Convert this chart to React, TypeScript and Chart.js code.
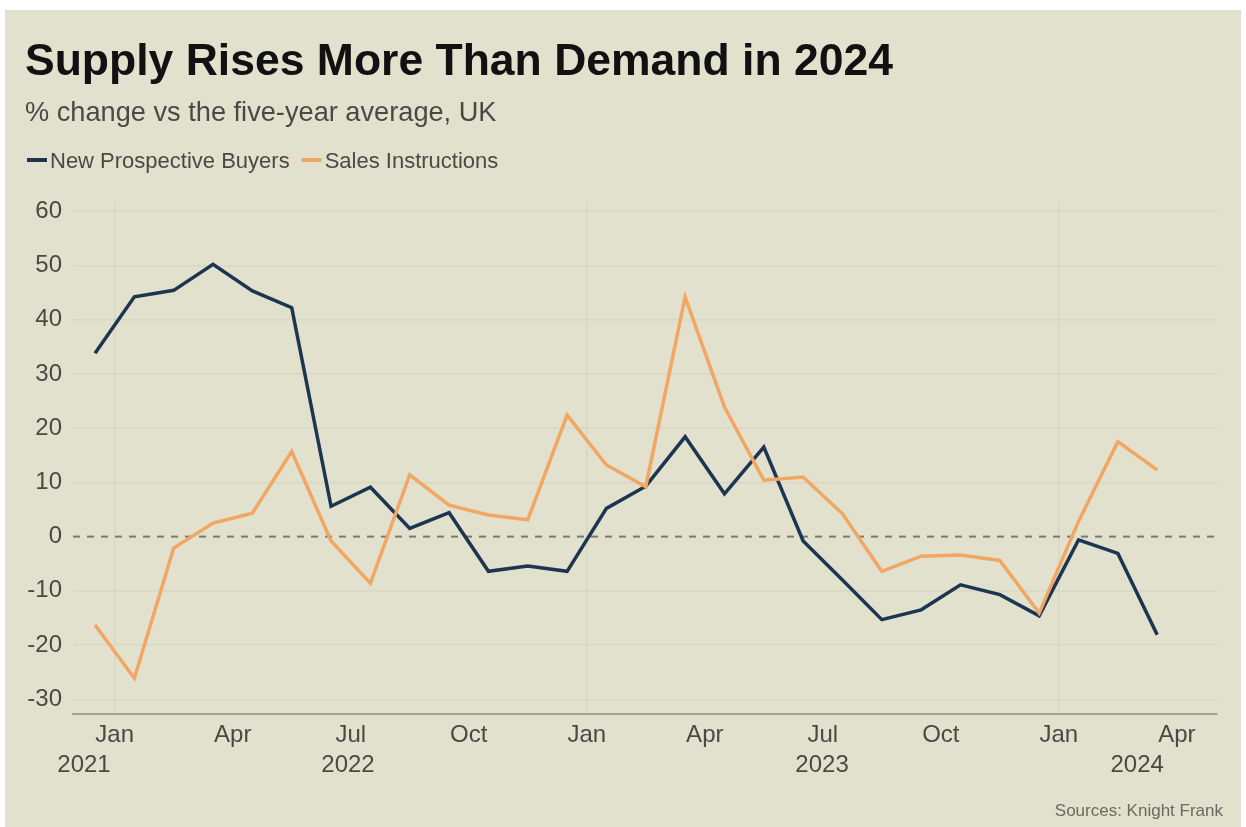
import React, { useEffect, useRef } from "react";
import { Chart, registerables } from "chart.js";

Chart.register(...registerables);

const titleText = "Supply Rises More Than Demand in 2024";
const subtitleText = "% change vs the five-year average, UK";
const sourceText = "Sources: Knight Frank";

const seriesNames = ["New Prospective Buyers", "Sales Instructions"];
const seriesColors = ["#1c3550", "#f2a664"];

// monthly observations, index 0 = Dec 2020 ... index 27 = Mar 2024
const buyers = [33.8, 44.2, 45.4, 50.2, 45.3, 42.2, 5.6, 9.1, 1.5, 4.4, -6.4, -5.4, -6.4, 5.2, 9.3, 18.4, 7.9, 16.5, -0.8, -8, -15.3, -13.5, -8.9, -10.7, -14.6, -0.6, -3.1, -18.1];
const sales = [-16.3, -26.1, -2.1, 2.5, 4.3, 15.7, -0.8, -8.6, 11.4, 5.8, 4.0, 3.1, 22.4, 13.2, 9.2, 44.2, 23.9, 10.4, 11.0, 4.2, -6.4, -3.6, -3.4, -4.4, -14.1, 2.8, 17.5, 12.3];

const monthLabels = ["Jan", "Apr", "Jul", "Oct", "Jan", "Apr", "Jul", "Oct", "Jan", "Apr"];
const monthTickAt = [0.5, 3.5, 6.5, 9.5, 12.5, 15.5, 18.5, 21.5, 24.5, 27.5];
const yearLabels = ["2021", "2022", "2023", "2024"];
const yearAt = [-0.28, 6.43, 18.48, 26.49];
const yTicks = [-30, -20, -10, 0, 10, 20, 30, 40, 50, 60];

const FONT = "'Liberation Sans', Arial, Helvetica, sans-serif";

const decorPlugin = {
  id: "decor",
  beforeDatasetsDraw(chart: any) {
    const { ctx, chartArea, scales } = chart;
    const y0 = scales.y.getPixelForValue(0);
    ctx.save();
    ctx.strokeStyle = "#7a7a70";
    ctx.lineWidth = 2;
    ctx.setLineDash([7, 7]);
    ctx.beginPath();
    ctx.moveTo(chartArea.left, y0);
    ctx.lineTo(chartArea.right - 2, y0);
    ctx.stroke();
    ctx.restore();
  },
  afterDraw(chart: any) {
    const { ctx, scales } = chart;
    ctx.save();
    // title
    ctx.fillStyle = "#111111";
    ctx.textAlign = "left";
    ctx.textBaseline = "alphabetic";
    ctx.font = `bold 44.5px ${FONT}`;
    ctx.fillText(titleText, 20, 65);
    // subtitle
    ctx.fillStyle = "#4a4a44";
    ctx.font = `27.2px ${FONT}`;
    ctx.fillText(subtitleText, 20, 111);
    // legend
    ctx.font = `22px ${FONT}`;
    let x = 22;
    seriesNames.forEach((name, i) => {
      ctx.strokeStyle = seriesColors[i];
      ctx.lineWidth = 4;
      ctx.setLineDash([]);
      ctx.beginPath();
      ctx.moveTo(x, 150);
      ctx.lineTo(x + 20, 150);
      ctx.stroke();
      ctx.fillStyle = "#4a4a44";
      ctx.fillText(name, x + 23, 158);
      x += 23 + ctx.measureText(name).width + 12;
    });
    // years
    ctx.font = `24px ${FONT}`;
    ctx.textAlign = "center";
    ctx.textBaseline = "middle";
    ctx.fillStyle = "#4a4a44";
    yearLabels.forEach((yl, i) => {
      ctx.fillText(yl, scales.x.getPixelForValue(yearAt[i]), scales.x.top + 51);
    });
    // source
    ctx.font = `17px ${FONT}`;
    ctx.textAlign = "right";
    ctx.textBaseline = "alphabetic";
    ctx.fillStyle = "#6a6a62";
    ctx.fillText(sourceText, 1218, 806);
    ctx.restore();
  },
};

export default function App() {
  const ref = useRef<HTMLCanvasElement>(null);
  useEffect(() => {
    if (!ref.current) return;
    const chart = new Chart(ref.current, {
      type: "line",
      data: {
        datasets: [
          {
            label: seriesNames[0],
            data: buyers.map((v, i) => ({ x: i, y: v })),
            borderColor: seriesColors[0],
            borderWidth: 3.5,
            pointRadius: 0,
            tension: 0,
            order: 1,
          },
          {
            label: seriesNames[1],
            data: sales.map((v, i) => ({ x: i, y: v })),
            borderColor: seriesColors[1],
            borderWidth: 3.5,
            pointRadius: 0,
            tension: 0,
            order: 0,
          },
        ],
      },
      options: {
        responsive: false,
        animation: false,
        devicePixelRatio: 1,
        layout: { padding: { top: 193, right: 24, bottom: 53, left: 0 } },
        plugins: {
          legend: { display: false },
          title: { display: false },
          tooltip: { enabled: false },
        },
        scales: {
          x: {
            type: "linear",
            min: -0.56,
            max: 28.52,
            afterBuildTicks: (scale: any) => {
              scale.ticks = monthTickAt.map((v) => ({ value: v }));
            },
            afterFit: (scale: any) => {
              scale.height = 60;
            },
            ticks: {
              autoSkip: false,
              maxRotation: 0,
              padding: 7,
              color: "#4a4a44",
              font: { family: FONT, size: 24 },
              callback: (_v: any, idx: number) => monthLabels[idx],
            },
            grid: {
              drawTicks: false,
              lineWidth: 1.5,
              color: (c: any) => (monthLabels[c.index] === "Jan" ? "rgba(0,0,0,0.045)" : "rgba(0,0,0,0)"),
            },
            border: { display: true, color: "#a3a290", width: 2 },
          },
          y: {
            min: -32.7,
            max: 61.5,
            afterBuildTicks: (scale: any) => {
              scale.ticks = yTicks.map((v) => ({ value: v }));
            },
            afterFit: (scale: any) => {
              scale.width = 68;
            },
            ticks: {
              padding: 11,
              color: "#4a4a44",
              font: { family: FONT, size: 24 },
              callback: (v: any) => String(v),
            },
            grid: {
              drawTicks: false,
              lineWidth: 1.5,
              color: (c: any) => (c.tick && c.tick.value === 0 ? "rgba(0,0,0,0)" : "rgba(0,0,0,0.045)"),
            },
            border: { display: false },
          },
        },
      },
      plugins: [decorPlugin],
    });
    return () => chart.destroy();
  }, []);

  return (
    <div style={{ position: "fixed", left: 0, top: 0, width: 1246, height: 827, background: "#ffffff" }}>
      <div style={{ position: "absolute", left: 5, top: 10, width: 1236, height: 817, background: "#e2e1ce" }}>
        <canvas ref={ref} width={1236} height={817} style={{ display: "block", width: 1236, height: 817 }} />
      </div>
    </div>
  );
}
